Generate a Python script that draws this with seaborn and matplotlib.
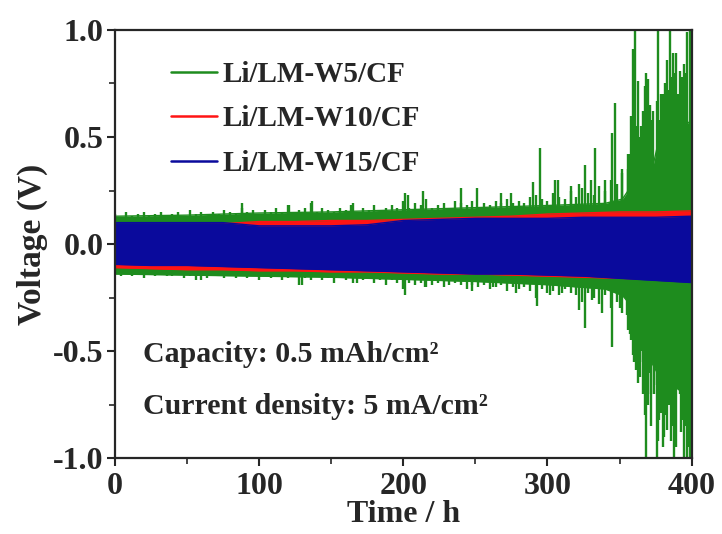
import numpy as np
import pandas as pd
import matplotlib
matplotlib.use("Agg")
import matplotlib.pyplot as plt
import seaborn as sns
from matplotlib.ticker import MultipleLocator, FormatStrFormatter

# ---------------- data ----------------
series = ["Li/LM-W5/CF", "Li/LM-W10/CF", "Li/LM-W15/CF"]
colors = ["#1e8c1e", "#ff1414", "#0a0a9c"]

# envelope knots of the dense cycling band (V)
knot_t = [0, 25, 50, 75, 100, 125, 150, 175, 200, 225, 250, 275, 300, 325, 350, 375, 400]
blue_hi = [0.10, 0.10, 0.10, 0.10, 0.085, 0.085, 0.085, 0.09, 0.11, 0.115, 0.12, 0.12, 0.12, 0.125, 0.125, 0.125, 0.13]
blue_lo = [-0.095, -0.10, -0.10, -0.105, -0.11, -0.115, -0.12, -0.125, -0.13, -0.135, -0.14, -0.14, -0.145, -0.15, -0.16, -0.17, -0.18]
red_hi = [0.09, 0.09, 0.09, 0.095, 0.105, 0.105, 0.11, 0.11, 0.115, 0.12, 0.125, 0.13, 0.14, 0.145, 0.15, 0.15, 0.155]
red_lo = [-0.11, -0.115, -0.12, -0.12, -0.125, -0.125, -0.13, -0.13, -0.135, -0.14, -0.14, -0.145, -0.15, -0.155, -0.16, -0.165, -0.17]

green_band_t = [0, 50, 100, 150, 200, 250, 300, 340, 352, 357, 360, 368, 372, 376, 385, 395, 400]
green_band_hi = [0.13, 0.135, 0.145, 0.15, 0.16, 0.17, 0.18, 0.19, 0.21, 0.26, 0.34, 0.36, 0.33, 0.45, 0.52, 0.55, 0.58]
green_band_lo = [-0.14, -0.145, -0.15, -0.155, -0.165, -0.175, -0.19, -0.21, -0.24, -0.28, -0.32, -0.40, -0.55, -0.60, -0.65, -0.70, -0.74]

# green cycle peaks, one every 4 h (0 ... 396 h)
green_peak_t = list(range(0, 400, 4))
green_peak_hi = [0.14, 0.12, 0.15, 0.13, 0.14, 0.15, 0.13, 0.14, 0.15, 0.13,
                 0.14, 0.15, 0.13, 0.16, 0.14, 0.15, 0.13, 0.15, 0.14, 0.16,
                 0.15, 0.14, 0.17, 0.15, 0.16, 0.14, 0.16, 0.15, 0.17, 0.15,
                 0.18, 0.15, 0.16, 0.17, 0.19, 0.15, 0.17, 0.16, 0.15, 0.17,
                 0.16, 0.18, 0.15, 0.17, 0.16, 0.18, 0.16, 0.17, 0.18, 0.17,
                 0.20, 0.17, 0.19, 0.18, 0.21, 0.17, 0.18, 0.19, 0.17, 0.20,
                 0.19, 0.18, 0.20, 0.17, 0.19, 0.18, 0.20, 0.19, 0.21, 0.19,
                 0.20, 0.19, 0.22, 0.23, 0.21, 0.20, 0.24, 0.22, 0.21, 0.25,
                 0.22, 0.26, 0.24, 0.23, 0.27, 0.25, 0.30, 0.28, 0.35, 0.42,
                 0.60, 0.45, 0.50, 0.58, 0.42, 0.70, 0.56, 0.72, 0.62, 0.80]
green_peak_lo = [-0.14, -0.15, -0.13, -0.15, -0.14, -0.16, -0.14, -0.15, -0.13, -0.15,
                 -0.15, -0.14, -0.16, -0.15, -0.17, -0.14, -0.16, -0.15, -0.14, -0.16,
                 -0.15, -0.16, -0.14, -0.16, -0.15, -0.17, -0.15, -0.16, -0.15, -0.17,
                 -0.16, -0.15, -0.19, -0.16, -0.17, -0.15, -0.17, -0.16, -0.18, -0.16,
                 -0.17, -0.16, -0.18, -0.17, -0.16, -0.18, -0.17, -0.19, -0.17, -0.18,
                 -0.21, -0.18, -0.19, -0.18, -0.20, -0.19, -0.18, -0.20, -0.19, -0.18,
                 -0.19, -0.21, -0.19, -0.20, -0.19, -0.21, -0.20, -0.19, -0.22, -0.20,
                 -0.21, -0.20, -0.22, -0.25, -0.21, -0.23, -0.22, -0.24, -0.21, -0.23,
                 -0.24, -0.27, -0.23, -0.25, -0.28, -0.24, -0.30, -0.27, -0.32, -0.40,
                 -0.55, -0.62, -0.48, -0.70, -0.66, -0.58, -0.72, -0.80, -0.65, -0.85]

# individual large green spikes (time h, voltage V)
green_up_t = [88, 121, 137, 165, 201, 203, 214, 240, 251, 268, 275, 290, 295, 305, 307, 316, 322,
              326, 330, 333, 340, 344.5, 346.6, 352, 356, 357, 358, 359, 360.5, 361.5, 362.5, 363.5,
              365, 366, 367.5, 368.6, 369.5, 370, 371, 372, 373.5, 375.7, 376.6, 378, 379, 380.5,
              381.5, 382.6, 383.5, 384.7, 386, 387, 388, 389, 390.5, 391.7, 392.5, 393.5, 394, 395,
              396, 397, 398.5, 399.5]
green_up_v = [0.19, 0.18, 0.20, 0.19, 0.24, 0.23, 0.25, 0.26, 0.26, 0.24, 0.24, 0.29, 0.45, 0.30, 0.30, 0.27, 0.28,
              0.37, 0.30, 0.45, 0.30, 0.52, 0.66, 0.33, 0.35, 0.42, 0.60, 0.91, 1.0, 0.55, 0.76, 0.50,
              0.55, 0.62, 0.74, 0.80, 0.58, 0.77, 0.65, 0.50, 0.62, 0.67, 1.0, 0.58, 0.70, 0.62,
              0.75, 0.86, 0.72, 1.0, 0.78, 0.89, 0.80, 0.89, 0.70, 0.81, 0.60, 0.78, 0.65, 0.84,
              0.72, 0.99, 1.0, 0.95]
green_dn_t = [60, 130, 165, 201, 215, 248, 262, 278, 293, 302, 310, 322, 326, 331, 337.6, 344.5,
              350, 355, 357, 358, 359.5, 361.6, 362.5, 364, 365, 366.5, 367.5, 368.6, 369.5, 371, 372,
              373, 374, 375.7, 376.5, 377.5, 379, 380, 381, 382, 383, 384, 385, 386, 387, 388, 389, 390,
              391.7, 392.5, 393, 394, 395, 396.5, 397.5, 398.5, 399.5]
green_dn_v = [-0.17, -0.19, -0.18, -0.24, -0.20, -0.22, -0.20, -0.23, -0.29, -0.24, -0.23, -0.31, -0.39, -0.26, -0.32, -0.48,
              -0.30, -0.33, -0.42, -0.45, -0.52, -0.59, -0.65, -0.55, -0.50, -0.70, -0.80, -1.0, -0.75, -0.60, -0.85,
              -0.45, -0.70, -1.0, -0.92, -0.82, -0.79, -0.95, -0.90, -0.80, -0.87, -0.75, -0.50, -0.92, -0.85, -1.0, -0.95, -0.56,
              -0.70, -0.88, -0.74, -0.82, -1.0, -1.0, -0.95, -1.0, -1.0]

x_ticks = [0, 100, 200, 300, 400]
y_ticks = [-1.0, -0.5, 0.0, 0.5, 1.0]

# ---------------- style ----------------
sns.set_theme(style="ticks")
plt.rcParams["font.family"] = ["Liberation Serif", "DejaVu Serif"]
plt.rcParams["font.weight"] = "bold"
plt.rcParams["axes.unicode_minus"] = False

fig = plt.figure(figsize=(7.22, 5.34), dpi=100)
ax = fig.add_axes([0.159, 0.142, 0.799, 0.802])

# green (bottom layer)
g = colors[0]
band_g = pd.DataFrame({"t": green_band_t, "hi": green_band_hi, "lo": green_band_lo})
ax.fill_between(band_g["t"], band_g["lo"], band_g["hi"], color=g, lw=0, zorder=1.0)
ax.vlines(green_peak_t, 0, green_peak_hi, color=g, lw=1.7, zorder=1.0)
ax.vlines(green_peak_t, green_peak_lo, 0, color=g, lw=1.7, zorder=1.0)
ax.vlines(green_up_t, 0, green_up_v, color=g, lw=1.7, zorder=1.0)
ax.vlines(green_dn_t, green_dn_v, 0, color=g, lw=1.7, zorder=1.0)

# red (middle layer)
band_r = pd.DataFrame({"t": knot_t, "hi": red_hi, "lo": red_lo})
ax.fill_between(band_r["t"], band_r["lo"], band_r["hi"], color=colors[1], lw=0, zorder=1.2)
# blue (top layer)
band_b = pd.DataFrame({"t": knot_t, "hi": blue_hi, "lo": blue_lo})
ax.fill_between(band_b["t"], band_b["lo"], band_b["hi"], color=colors[2], lw=0, zorder=1.4)

# envelope edge lines through seaborn (also give the legend entries)
for df, c, name, z in [(band_g, g, series[0], 1.1), (band_r, colors[1], series[1], 1.3),
                       (band_b, colors[2], series[2], 1.5)]:
    sns.lineplot(data=df, x="t", y="hi", color=c, lw=1.0, ax=ax, label=name, zorder=z)
    sns.lineplot(data=df, x="t", y="lo", color=c, lw=1.0, ax=ax, zorder=z)

ax.set_xlim(0, 400)
ax.set_ylim(-1.0, 1.0)
ax.set_xticks(x_ticks)
ax.set_yticks(y_ticks)
ax.xaxis.set_minor_locator(MultipleLocator(50))
ax.yaxis.set_minor_locator(MultipleLocator(0.25))
ax.yaxis.set_major_formatter(FormatStrFormatter("%.1f"))
ax.tick_params(which="major", direction="out", length=6, width=1.5, labelsize=23, pad=2)
ax.tick_params(axis="x", which="major", pad=4)
ax.tick_params(which="minor", direction="out", length=4, width=1.2)
for lab in ax.get_xticklabels() + ax.get_yticklabels():
    lab.set_fontweight("bold")
for s in ax.spines.values():
    s.set_linewidth(1.6)
    s.set_visible(True)
ax.set_xlabel("Time / h", fontsize=23, fontweight="bold", labelpad=-1)
ax.set_ylabel("Voltage (V)", fontsize=24, fontweight="bold", labelpad=4)

leg = ax.legend(loc="upper left", bbox_to_anchor=(0.097, 0.928), frameon=False,
                borderpad=0, borderaxespad=0, handlelength=1.58, handletextpad=0.2,
                labelspacing=0.6, prop={"size": 21, "weight": "bold"})
for h in leg.get_lines():
    h.set_linewidth(1.8)

ax.text(0.0485, 0.243, "Capacity: 0.5 mAh/cm²", transform=ax.transAxes, fontsize=21.5,
        fontweight="bold", va="center", ha="left")
ax.text(0.0485, 0.12, "Current density: 5 mA/cm²", transform=ax.transAxes, fontsize=21.5,
        fontweight="bold", va="center", ha="left")

fig.savefig("out.png", dpi=100)
